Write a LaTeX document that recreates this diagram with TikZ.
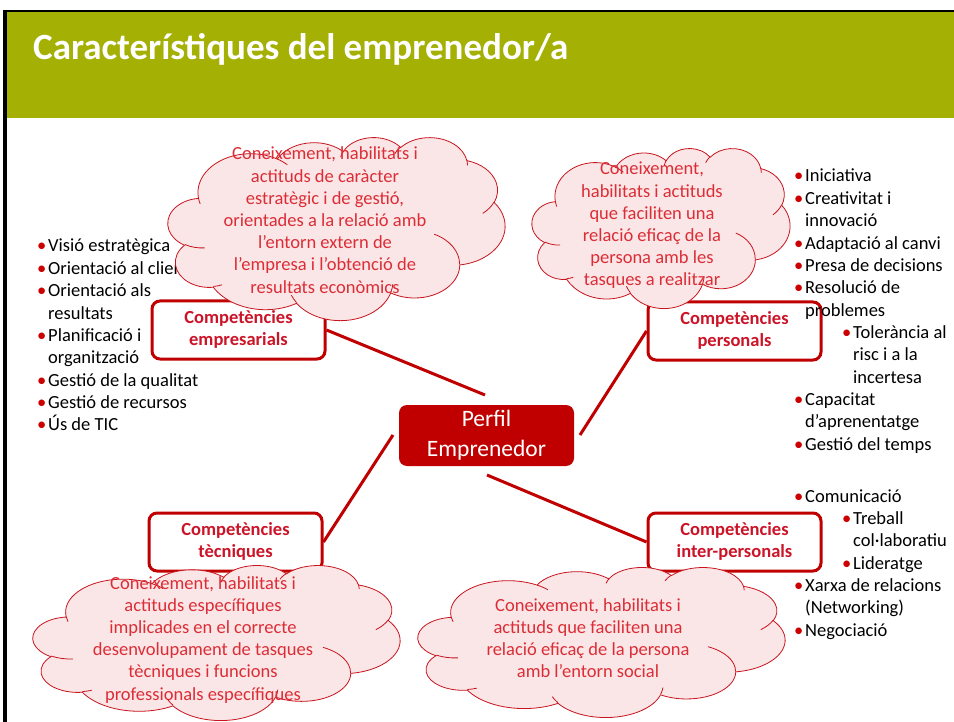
\documentclass[tikz,border=0pt]{standalone}
\usepackage{fontspec}
\setmainfont{Carlito}
\definecolor{hdr}{RGB}{164,176,4}
\definecolor{dred}{RGB}{192,0,0}
\definecolor{boxtxt}{RGB}{204,20,40}
\definecolor{cloudfill}{RGB}{250,230,230}
\definecolor{cloudline}{RGB}{200,20,30}
\definecolor{cloudtxt}{RGB}{220,45,55}
\definecolor{bul}{RGB}{204,0,0}
\newcommand{\bu}{\makebox[11pt][l]{\textcolor{bul}{•}}}
\newcommand{\ind}{\hspace*{11pt}}
\newcommand{\subind}{\hspace*{48pt}}
% elliptic arc in DrawingML convention (visual angles)
\newcommand{\carc}[4]{arc[x radius=#1, y radius=#2,
  start angle={atan2((#1)*sin(#3),(#2)*cos(#3))},
  delta angle={mod(atan2((#1)*sin((#3)+(#4)),(#2)*cos((#3)+(#4)))-atan2((#1)*sin(#3),(#2)*cos(#3))+720,360)}]}
\newcommand{\pptcloud}[4]{%
  \begin{scope}[shift={(#1,#2)}, xscale=#3/432, yscale=#4/432]
  \draw[draw=cloudline, fill=cloudfill, line width=0.8pt] (39.00,143.70)
    \carc{67.53}{91.90}{-190.48748}{123.78053}
    \carc{53.33}{72.67}{-144.10238}{89.94523}
    \carc{43.65}{59.45}{-145.80792}{99.72302}
    \carc{48.57}{65.95}{-130.98607}{117.24173}
    \carc{53.33}{72.73}{-78.70888}{109.02692}
    \carc{67.75}{92.20}{-46.26725}{130.269}
    \carc{57.85}{78.67}{0.62502}{114.03333}
    \carc{67.52}{92.15}{22.4516}{115.17255}
    \carc{77.20}{105.43}{66.24263}{75.71102}
    \carc{43.60}{59.18}{-274.94208}{146.73557}
    \carc{43.45}{59.45}{-246.8285}{152.51885} -- cycle;
  \draw[draw=cloudline, line width=0.8pt]
    (46.93,261.77) \carc{43.45}{59.45}{86.742}{26.4295}
    (69.28,348.99) \carc{43.60}{59.18}{73.61047}{11.44747}
    (164.78,390.90) \carc{67.52}{92.15}{137.62415}{14.0811}
    (288.27,347.51) \carc{67.52}{92.15}{6.45327}{15.99835}
    (341.29,229.54) \carc{57.85}{78.67}{-70.29235}{70.91737}
    (417.98,153.54) \carc{53.33}{72.73}{30.31803}{27.7515}
    (383.24,54.26) \carc{48.57}{65.95}{-13.74433}{14.8589}
    (290.78,39.52) \carc{48.57}{65.95}{-149.18145}{18.19537}
    (221.41,47.20) \carc{43.65}{59.45}{-163.49427}{17.68635}
    (140.00,51.92) \carc{67.53}{91.90}{-66.70695}{12.31935}
    (41.27,157.89) \carc{67.53}{91.90}{157.65435}{11.85817};
  \end{scope}}
\begin{document}
\begin{tikzpicture}[x=1pt,y=-1pt,
  comp/.style={draw=dred, line width=3pt, rounded corners=8pt, fill=white,
    minimum width=173pt, minimum height=58pt, inner sep=0pt, text=boxtxt,
    font=\fontsize{18.5}{22}\bfseries\selectfont},
  conn/.style={draw=dred, line width=3pt},
  ctext/.style={text=cloudtxt, inner sep=0pt, anchor=base,
    font=\fontsize{18.5}{22.2}\selectfont},
  lst/.style={text=black, inner sep=0pt, anchor=base west,
    font=\fontsize{18.5}{22.35}\selectfont}]
\useasboundingbox (0,0) rectangle (954,722);
\fill[white] (0,0) rectangle (954,722);
% slide frame and header
\fill[hdr] (5,11) rectangle (954,118);
\draw[black, line width=2pt] (4,11) -- (954,11);
\draw[black, line width=3.5pt] (5,10) -- (5,722);
\node[inner sep=0pt, anchor=base west, text=white,
  font=\fontsize{37}{44}\bfseries\selectfont] (title) at (33,60) {Característiques del emprenedor/a};
% left list
\node[lst] (L) at (37,252) {\begin{tabular}[t]{@{}l@{}}
\bu Visió estratègica\\
\bu Orientació al client\\
\bu Orientació als\\
\ind resultats\\
\bu Planificació i\\
\ind organització\\
\bu Gestió de la qualitat\\
\bu Gestió de recursos\\
\bu Ús de TIC
\end{tabular}};
% boxes
\node[comp] (emp) at (238.5,330) {\begin{tabular}{@{}c@{}}Competències\\empresarials\end{tabular}};
\node[comp] (per) at (734.5,331) {\begin{tabular}{@{}c@{}}Competències\\personals\end{tabular}};
\node[comp] (tec) at (235.5,542) {\begin{tabular}{@{}c@{}}Competències\\tècniques\end{tabular}};
\node[comp] (int) at (734.5,542) {\begin{tabular}{@{}c@{}}Competències\\inter-personals\end{tabular}};
\node[fill=dred, rounded corners=8pt, minimum width=175pt, minimum height=61pt,
  inner sep=0pt, text=white, font=\fontsize{23.5}{30}\selectfont] (perfil) at (486.5,435.5)
  {\begin{tabular}{@{}c@{}}Perfil\\Emprenedor\end{tabular}};
% connectors
\coordinate (e1) at (485,395);
\coordinate (e2) at (580,435);
\coordinate (e3) at (393,435);
\coordinate (e4) at (487,475);
\draw[conn] (emp.east) -- (e1);
\draw[conn] (per.west) -- (e2);
\draw[conn] (tec.east) -- (e3);
\draw[conn] (int.west) -- (e4);
% clouds
\pptcloud{168}{137}{337}{183}
\pptcloud{532}{148}{258}{160}
\pptcloud{33}{565}{367}{155}
\pptcloud{418}{567}{367}{150}
\node[ctext] (t1) at (325,160) {\begin{tabular}[t]{@{}c@{}}
Coneixement, habilitats i\\
actituds de caràcter\\
estratègic i de gestió,\\
orientades a la relació amb\\
l’entorn extern de\\
l’empresa i l’obtenció de\\
resultats econòmics\end{tabular}};
\node[ctext] (t2) at (652,175) {\begin{tabular}[t]{@{}c@{}}
Coneixement,\\
habilitats i actituds\\
que faciliten una\\
relació eficaç de la\\
persona amb les\\
tasques a realitzar\end{tabular}};
\node[ctext] (t3) at (203,589) {\begin{tabular}[t]{@{}c@{}}
Coneixement, habilitats i\\
actituds específiques\\
implicades en el correcte\\
desenvolupament de tasques\\
tècniques i funcions\\
professionals específiques\end{tabular}};
\node[ctext] (t4) at (588,611) {\begin{tabular}[t]{@{}c@{}}
Coneixement, habilitats i\\
actituds que faciliten una\\
relació eficaç de la persona\\
amb l’entorn social\end{tabular}};
% right lists
\node[lst] (R1) at (794,182) {\begin{tabular}[t]{@{}l@{}}
\bu Iniciativa\\
\bu Creativitat i\\
\ind innovació\\
\bu Adaptació al canvi\\
\bu Presa de decisions\\
\bu Resolució de\\
\ind problemes\\
\subind\bu Tolerància al\\
\subind\ind risc i a la\\
\subind\ind incertesa\\
\bu Capacitat\\
\ind d’aprenentatge\\
\bu Gestió del temps
\end{tabular}};
\node[lst] (R2) at (794,502) {\begin{tabular}[t]{@{}l@{}}
\bu Comunicació\\
\subind\bu Treball\\
\subind\ind col·laboratiu\\
\subind\bu Lideratge\\
\bu Xarxa de relacions\\
\ind (Networking)\\
\bu Negociació
\end{tabular}};
\end{tikzpicture}
\end{document}
